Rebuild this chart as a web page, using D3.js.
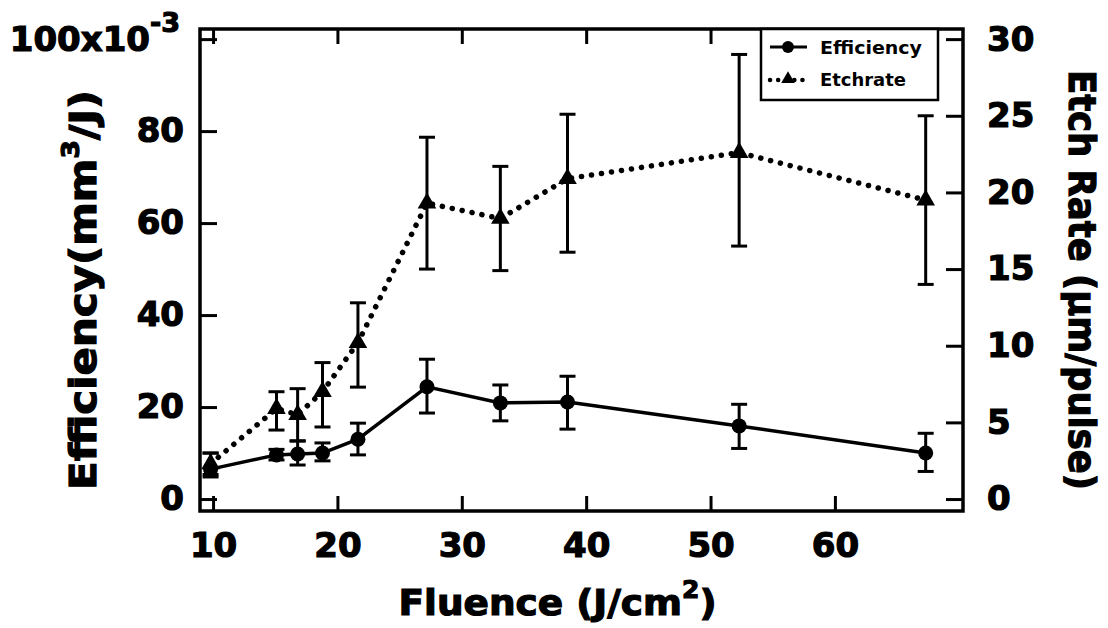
<!doctype html>
<html>
<head>
<meta charset="utf-8">
<title>Efficiency and etch rate vs fluence</title>
<style>
  body { margin: 0; background: #fff; }
  svg { font-family: "DejaVu Sans", sans-serif; font-weight: bold; }
  .axis path { display: none; }
  .axis line { stroke: #000; stroke-width: 3px; }
  .axis text { font-size: 34px; font-weight: bold; fill: #000; font-family: "DejaVu Sans", sans-serif;
      stroke: #000; stroke-width: 1.2px; }
  .title { stroke: #000; stroke-width: 1.2px; }
  .frame { fill: none; stroke: #000; stroke-width: 3.5px; }
  .eff-line { fill: none; stroke: #000; stroke-width: 3.5px; }
  .etch-line { fill: none; stroke: #000; stroke-width: 5.5px; stroke-linecap: round; stroke-dasharray: 0.1 10; }
  .err { stroke: #000; stroke-width: 3px; }
</style>
<script src="https://cdn.jsdelivr.net/npm/d3@7"></script>
</head>
<body>
<script>
// fluence (J/cm^2)
var fluence = [9.8, 15.1, 16.8, 18.8, 21.65, 27.2, 33.1, 38.5, 52.3, 67.3];

// efficiency (x10^-3 mm^3/J) with error bar limits
var effVal  = [6.5, 9.6, 9.8, 10.0, 13.0, 24.4, 20.9, 21.1, 15.9, 10.0];
var effHigh = [10.0, 10.8, 12.6, 12.2, 16.5, 30.4, 24.8, 26.7, 20.6, 14.3];
var effLow  = [4.8, 8.5, 7.4, 8.3, 9.6, 18.7, 17.0, 15.2, 11.0, 6.0];

// etch rate (um/pulse) with error bar limits
var etchVal  = [2.3, 5.9, 5.5, 7.0, 10.2, 19.3, 18.3, 20.9, 22.6, 19.5];
var etchHigh = [3.0, 7.0, 7.2, 8.9, 12.8, 23.6, 21.7, 25.1, 29.0, 25.0];
var etchLow  = [1.6, 4.5, 3.8, 4.7, 7.3, 15.0, 14.9, 16.1, 16.5, 14.0];

var xTicks = [10, 20, 30, 40, 50, 60];
var leftTicks = [0, 20, 40, 60, 80, 100];
var rightTicks = [0, 5, 10, 15, 20, 25, 30];
var seriesNames = ["Efficiency", "Etchrate"];

var W = 1108, H = 628;
var L = 200, R = 963, T = 29, B = 511;

var svg = d3.select("body").append("svg")
    .attr("width", W)
    .attr("height", H);

var x = d3.scaleLinear().domain([8.95, 70.3]).range([L, R]);
var yL = d3.scaleLinear().domain([-2.6, 102.2]).range([B, T]);
var yR = d3.scaleLinear().domain([-0.78, 30.66]).range([B, T]);

// axes, ticks pointing inward
svg.append("g").attr("class", "axis")
    .attr("transform", "translate(0," + B + ")")
    .call(d3.axisBottom(x).tickValues(xTicks).tickSize(-15).tickPadding(22));

svg.append("g").attr("class", "axis")
    .attr("transform", "translate(0," + T + ")")
    .call(d3.axisTop(x).tickValues(xTicks).tickSize(-15).tickFormat(""));

var gl = svg.append("g").attr("class", "axis")
    .attr("transform", "translate(" + L + ",0)")
    .call(d3.axisLeft(yL).tickValues(leftTicks).tickSize(-17).tickPadding(16)
        .tickFormat(function(d) { return d === 100 ? "100x10" : d; }));

var top100 = gl.selectAll(".tick text").filter(function(d) { return d === 100; });
top100.attr("dx", "-4");
top100.append("tspan")
    .attr("dy", "-0.7em")
    .style("font-size", "27px")
    .text("-3");

svg.append("g").attr("class", "axis")
    .attr("transform", "translate(" + R + ",0)")
    .call(d3.axisRight(yR).tickValues(rightTicks).tickSize(-17).tickPadding(24));

svg.append("rect").attr("class", "frame")
    .attr("x", L).attr("y", T)
    .attr("width", R - L).attr("height", B - T);

// axis titles
var xt = svg.append("text").attr("class", "title")
    .attr("x", (L + R) / 2 - 24)
    .attr("y", 615)
    .attr("text-anchor", "middle")
    .attr("font-size", 36)
    .attr("textLength", 318)
    .attr("lengthAdjust", "spacingAndGlyphs");
xt.append("tspan").text("Fluence (J/cm");
xt.append("tspan").attr("dy", -17).attr("font-size", 24).text("2");
xt.append("tspan").attr("dy", 17).text(")");

var lt = svg.append("text").attr("class", "title")
    .attr("transform", "translate(96,290) rotate(-90)")
    .attr("text-anchor", "middle")
    .attr("font-size", 38)
    .attr("textLength", 400)
    .attr("lengthAdjust", "spacingAndGlyphs");
lt.append("tspan").text("Efficiency(mm");
lt.append("tspan").attr("dy", -17).attr("font-size", 24).text("3");
lt.append("tspan").attr("dy", 17).text("/J)");

svg.append("text").attr("class", "title")
    .attr("transform", "translate(1069,280) rotate(90)")
    .attr("text-anchor", "middle")
    .attr("font-size", 38)
    .attr("textLength", 420)
    .attr("lengthAdjust", "spacingAndGlyphs")
    .text("Etch Rate (\u00b5m/pulse)");

// data
var idx = d3.range(fluence.length);
var cap = 8;

function errorBars(g, scale, lo, hi) {
    idx.forEach(function(i) {
        var cx = x(fluence[i]);
        g.append("line").attr("class", "err")
            .attr("x1", cx).attr("x2", cx)
            .attr("y1", scale(lo[i])).attr("y2", scale(hi[i]));
        [lo[i], hi[i]].forEach(function(v) {
            g.append("line").attr("class", "err")
                .attr("x1", cx - cap).attr("x2", cx + cap)
                .attr("y1", scale(v)).attr("y2", scale(v));
        });
    });
}

var gEtch = svg.append("g");
gEtch.append("path").attr("class", "etch-line")
    .attr("d", d3.line().x(function(i) { return x(fluence[i]); })
        .y(function(i) { return yR(etchVal[i]); })(idx));
errorBars(gEtch, yR, etchLow, etchHigh);
var tri = d3.symbol().type(d3.symbolTriangle).size(150);
gEtch.selectAll(".tri").data(idx).enter().append("path")
    .attr("class", "tri")
    .attr("d", tri)
    .attr("transform", function(i) { return "translate(" + x(fluence[i]) + "," + yR(etchVal[i]) + ")"; })
    .attr("fill", "#000");

var gEff = svg.append("g");
gEff.append("path").attr("class", "eff-line")
    .attr("d", d3.line().x(function(i) { return x(fluence[i]); })
        .y(function(i) { return yL(effVal[i]); })(idx));
errorBars(gEff, yL, effLow, effHigh);
gEff.selectAll(".dot").data(idx).enter().append("circle")
    .attr("class", "dot")
    .attr("cx", function(i) { return x(fluence[i]); })
    .attr("cy", function(i) { return yL(effVal[i]); })
    .attr("r", 7.5)
    .attr("fill", "#000");

// legend
var lg = svg.append("g");
lg.append("rect").attr("x", 761).attr("y", T).attr("width", 177).attr("height", 71)
    .attr("fill", "#fff").attr("stroke", "#000").attr("stroke-width", 2.5);
lg.append("line").attr("x1", 770).attr("x2", 807).attr("y1", 47).attr("y2", 47)
    .attr("stroke", "#000").attr("stroke-width", 3);
lg.append("circle").attr("cx", 788).attr("cy", 47).attr("r", 6).attr("fill", "#000");
lg.append("path").attr("class", "etch-line")
    .attr("d", "M770,80H807").style("stroke-width", "4.5px").style("stroke-dasharray", "0.1 8");
lg.append("path").attr("d", d3.symbol().type(d3.symbolTriangle).size(80))
    .attr("transform", "translate(788,79)").attr("fill", "#000");
lg.selectAll(".lt").data(seriesNames).enter().append("text")
    .attr("x", 820)
    .attr("y", function(d, i) { return 54 + i * 32; })
    .attr("font-size", 18.5)
    .attr("textLength", function(d, i) { return i === 0 ? 102 : 86; })
    .attr("lengthAdjust", "spacingAndGlyphs")
    .text(function(d) { return d; });
</script>
</body>
</html>
